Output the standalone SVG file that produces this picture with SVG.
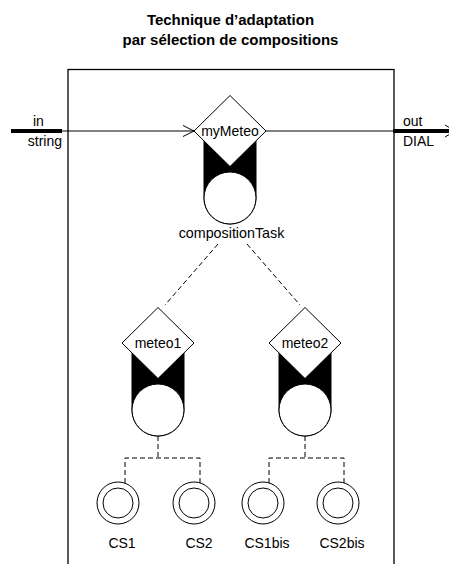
<svg xmlns="http://www.w3.org/2000/svg" width="449" height="564" viewBox="0 0 449 564">
<style>
text{font-family:"Liberation Sans",Arial,sans-serif;font-size:14px;fill:#000}
.title{font-weight:bold;font-size:15px;text-anchor:middle}
.mid{text-anchor:middle}
.ln{stroke:#000;stroke-width:1;fill:none}
.box{stroke:#000;stroke-width:1.3;fill:none}
.thick{stroke:#000;stroke-width:4;fill:none}
.dash{stroke:#000;stroke-width:1;fill:none;stroke-dasharray:5 3}
.shape{fill:#fff;stroke:#000;stroke-width:1}
.blk{fill:#000;stroke:#000;stroke-width:1}
</style>
<rect width="449" height="564" fill="#fff"/>
<text class="title" x="230.5" y="25">Technique d’adaptation</text>
<text class="title" x="230.5" y="45">par sélection de compositions</text>
<rect id="box" x="68" y="69.5" width="326" height="510" class="box"/>
<g id="ports">
<line class="thick" x1="11" y1="131" x2="62" y2="131"/>
<text x="33" y="126">in</text>
<text x="62" y="146" text-anchor="end">string</text>
<line class="thick" x1="393" y1="131" x2="449" y2="131"/>
<text x="403" y="126">out</text>
<text x="403" y="146">DIAL</text>
</g>
<g id="connectors">
<line class="ln" x1="62" y1="131" x2="194" y2="131"/>
<polyline class="ln" points="183,125.5 194,131 183,136.5"/>
<line class="ln" x1="266" y1="131" x2="393" y2="131"/>
<polyline class="ln" points="445,125 455,131 445,137"/>
<line class="dash" x1="218" y1="244" x2="165" y2="305"/>
<line class="dash" x1="247" y1="244" x2="300" y2="305"/>
<polyline class="dash" points="158,436 158,458"/>
<polyline class="dash" points="125,483 125,458 200,458 200,483"/>
<polyline class="dash" points="305,436 305,458"/>
<polyline class="dash" points="269,483 269,458 344,458 344,483"/>
</g>
<g id="myMeteo">
<path class="blk" d="M204,131 L204,198 A26,26 0 0 0 256,198 L256,131 Z"/>
<polygon class="shape" points="230,95.5 266,131 230,166.5 194,131"/>
<circle class="shape" cx="230" cy="198" r="26"/>
<text class="mid" x="230" y="135.5">myMeteo</text>
<text class="mid" x="231.5" y="238" style="font-size:14.3px">compositionTask</text>
</g>
<g id="meteo1">
<path class="blk" d="M132,343 L132,410 A26,26 0 0 0 184,410 L184,343 Z"/>
<polygon class="shape" points="158,307.5 194,343 158,378.5 122,343"/>
<circle class="shape" cx="158" cy="410" r="26"/>
<text class="mid" x="158" y="347.5">meteo1</text>
</g>
<g id="meteo2">
<path class="blk" d="M279,343 L279,410 A26,26 0 0 0 331,410 L331,343 Z"/>
<polygon class="shape" points="305,307.5 341,343 305,378.5 269,343"/>
<circle class="shape" cx="305" cy="410" r="26"/>
<text class="mid" x="305" y="347.5">meteo2</text>
</g>
<g id="CS1">
<circle class="shape" cx="118" cy="503" r="21"/>
<circle class="shape" cx="118" cy="503" r="15"/>
<text class="mid" x="122" y="548">CS1</text>
</g>
<g id="CS2">
<circle class="shape" cx="194" cy="503" r="21"/>
<circle class="shape" cx="194" cy="503" r="15"/>
<text class="mid" x="199" y="548">CS2</text>
</g>
<g id="CS1bis">
<circle class="shape" cx="263" cy="503" r="21"/>
<circle class="shape" cx="263" cy="503" r="15"/>
<text class="mid" x="267" y="548">CS1bis</text>
</g>
<g id="CS2bis">
<circle class="shape" cx="338" cy="503" r="21"/>
<circle class="shape" cx="338" cy="503" r="15"/>
<text class="mid" x="342" y="548">CS2bis</text>
</g>
</svg>
